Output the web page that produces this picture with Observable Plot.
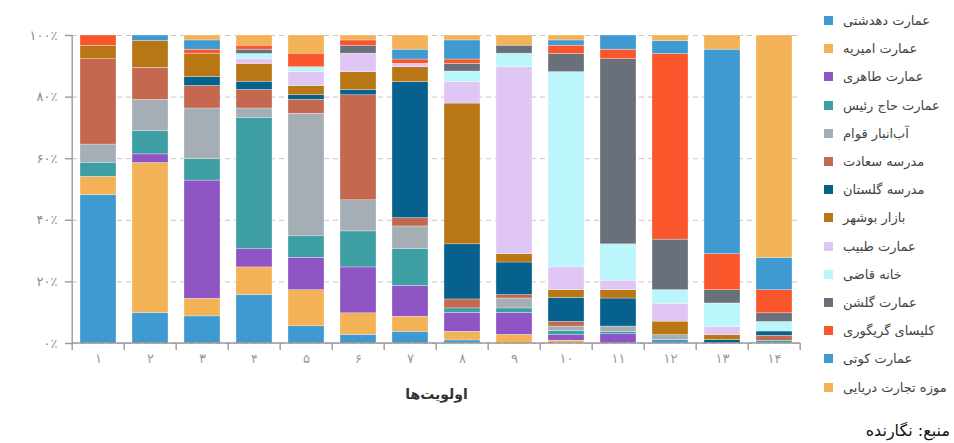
<!DOCTYPE html>
<html>
<head>
<meta charset="utf-8">
<script src="https://cdn.jsdelivr.net/npm/d3@7"></script>
<script src="https://cdn.jsdelivr.net/npm/@observablehq/plot@0.6"></script>
<style>
  body { margin: 0; background: #fff; font-family: "DejaVu Sans", sans-serif; }
  #wrap { position: relative; width: 954px; height: 443px; overflow: hidden; }
  #wrap svg { position: absolute; left: 0; top: 0; }
  #legend { position: absolute; left: 824px; top: 0; width: 130px; height: 400px; }
  .item { position: absolute; left: 0; height: 16px; display: flex; align-items: center; white-space: nowrap; font-size: 13px; color: #444; }
  .sw { width: 9px; height: 9px; margin-right: 10px; flex: none; }
  #source { position: absolute; right: 4px; top: 421px; font-size: 16px; font-weight: normal; direction: rtl; color: #111; }
</style>
</head>
<body>
<div id="wrap"></div>
<script>
// Categories (priorities 1..14)
const categories = ["1","2","3","4","5","6","7","8","9","10","11","12","13","14"];

// Series names (legend order = stacking order, bottom to top)
const seriesNames = [
  "عمارت دهدشتی", "عمارت امیریه", "عمارت طاهری", "عمارت حاج رئیس", "آب‌انبار قوام",
  "مدرسه سعادت", "مدرسه گلستان", "بازار بوشهر", "عمارت طبیب", "خانه قاضی",
  "عمارت گلشن", "کلیسای گریگوری", "عمارت کوتی", "موزه تجارت دریایی"
];
const seriesColors = [
  "#3e9ad0", "#f2b255", "#8f55c5", "#3d9ea4", "#a5aeb4",
  "#c4684f", "#06618d", "#b97614", "#e0c6f5", "#baf6fb",
  "#69707a", "#f9562c", "#3e9ad0", "#f2b255"
];

// Percent share of each building per priority (bars 1..14)
const dehdashti = [48.2, 9.9, 8.8, 15.7, 5.6, 2.8, 3.8, 1.0, 0, 0, 0, 1.1, 0, 0];
const amirieh   = [5.9, 48.7, 5.7, 9.0, 11.7, 7.0, 4.9, 2.8, 2.8, 0.9, 0, 0, 0, 0];
const taheri    = [0, 2.8, 38.4, 5.9, 10.5, 14.9, 10.0, 6.1, 7.1, 1.8, 3.0, 0, 0, 0];
const hajRaeis  = [4.6, 7.5, 7.0, 42.7, 7.0, 11.7, 11.9, 1.5, 1.5, 1.4, 0.8, 0, 0, 0.9];
const abAnbar   = [5.9, 10.2, 16.4, 3.0, 39.8, 10.1, 7.4, 0, 3.2, 1.4, 1.7, 1.6, 0, 0];
const saadat    = [27.7, 10.4, 7.3, 6.0, 4.5, 34.1, 2.7, 2.9, 1.1, 1.5, 0, 0, 0, 1.6];
const golestan  = [0, 0, 2.9, 2.7, 1.5, 1.7, 44.2, 17.9, 10.6, 7.8, 9.1, 0, 1.1, 1.4];
const bazaar    = [4.3, 8.7, 7.6, 5.8, 3.0, 5.8, 4.8, 45.7, 2.7, 2.5, 2.7, 4.4, 1.6, 0];
const tabib     = [0, 0, 0, 1.6, 4.5, 6.0, 1.1, 7.0, 60.7, 7.4, 3.1, 5.8, 2.7, 0];
const ghazi     = [0, 0, 0, 1.6, 1.6, 0, 0, 3.4, 4.4, 63.4, 11.8, 4.4, 7.6, 3.1];
const golshan   = [0, 0, 0, 1.4, 0, 2.6, 0, 2.5, 2.6, 5.9, 60.1, 16.4, 4.3, 2.8];
const grigory   = [3.4, 0, 1.3, 1.3, 4.4, 1.7, 1.4, 1.4, 0, 2.7, 3.1, 60.2, 11.7, 7.5];
const kooti     = [0, 1.8, 3.0, 0, 0, 0, 3.2, 6.2, 0, 1.7, 4.6, 4.2, 66.4, 10.5];
const museum    = [0, 0, 1.6, 3.3, 5.9, 1.6, 4.6, 1.6, 3.3, 1.6, 0, 1.8, 4.6, 72.2];

const seriesValues = [dehdashti, amirieh, taheri, hajRaeis, abAnbar, saadat, golestan,
  bazaar, tabib, ghazi, golshan, grigory, kooti, museum];

const yTicks = [0, 0.2, 0.4, 0.6, 0.8, 1];
const xTitle = "اولویت‌ها";
const sourceText = "منبع: نگارنده";

const fa = s => String(s).replace(/\d/g, d => "۰۱۲۳۴۵۶۷۸۹"[d]);

const data = [];
seriesNames.forEach((s, i) => seriesValues[i].forEach((v, j) =>
  data.push({priority: categories[j], series: s, value: v})));

const PAD = 0.3;

const axisLines = (index, scales, values, dims) => {
  const xs = categories.map(c => scales.x(c));
  const step = xs[1] - xs[0];
  const bounds = xs.map(v => v - step * PAD / 2);
  bounds.push(xs[xs.length - 1] + step * (1 - PAD / 2));
  const left = bounds[0];
  const y0 = dims.height - dims.marginBottom, y1 = dims.marginTop;
  const g = d3.create("svg:g").attr("stroke", "#9a9a9a").attr("stroke-width", 1.4);
  g.append("line").attr("x1", left).attr("x2", left).attr("y1", y1).attr("y2", y0);
  g.append("line").attr("x1", left).attr("x2", bounds[bounds.length - 1]).attr("y1", y0).attr("y2", y0);
  g.selectAll(null).data(bounds).join("line")
    .attr("x1", d => d).attr("x2", d => d).attr("y1", y0).attr("y2", y0 + 7);
  return g.node();
};

const chart = Plot.plot({
  width: 954,
  height: 443,
  marginLeft: 72,
  marginRight: 154,
  marginTop: 35,
  marginBottom: 100,
  style: {fontFamily: "'DejaVu Sans', sans-serif", background: "transparent", overflow: "visible"},
  x: {domain: categories, paddingInner: PAD, paddingOuter: PAD / 2, label: null},
  y: {domain: [0, 1], label: null},
  color: {domain: seriesNames, range: seriesColors},
  marks: [
    Plot.gridY(yTicks, {stroke: "#c4c4c4", strokeOpacity: 1, strokeDasharray: "5,4"}),
    Plot.barY(data, Plot.stackY({
      x: "priority", y: "value", z: "series", fill: "series",
      offset: "normalize", stroke: "#fff", strokeWidth: 0.5, strokeOpacity: 0.6
    })),
    axisLines,
    Plot.axisY(yTicks, {
      tickSize: 7, tickPadding: 8, stroke: "#9a9a9a", strokeWidth: 1.4,
      tickFormat: d => fa(Math.round(d * 100)) + "٪",
      fontSize: 13, fill: "#8a8a8a", label: null, style: "letter-spacing:1.5px"
    }),
    Plot.axisX({tickSize: 0, tickPadding: 10, tickFormat: fa, fontSize: 13, fill: "#999", label: null}),
    Plot.text([xTitle], {frameAnchor: "bottom", dy: 55, fontSize: 14, fontWeight: "bold", fill: "#333"})
  ]
});

const wrap = document.getElementById("wrap");
wrap.appendChild(chart);

const legend = document.createElement("div");
legend.id = "legend";
seriesNames.forEach((s, i) => {
  const item = document.createElement("div");
  item.className = "item";
  item.style.top = (12.5 + 28.2 * i) + "px";
  const sw = document.createElement("span");
  sw.className = "sw";
  sw.style.background = seriesColors[i];
  const t = document.createElement("span");
  t.dir = "rtl";
  t.textContent = s;
  item.appendChild(sw);
  item.appendChild(t);
  legend.appendChild(item);
});
wrap.appendChild(legend);

const src = document.createElement("div");
src.id = "source";
src.textContent = sourceText;
wrap.appendChild(src);
</script>
</body>
</html>
